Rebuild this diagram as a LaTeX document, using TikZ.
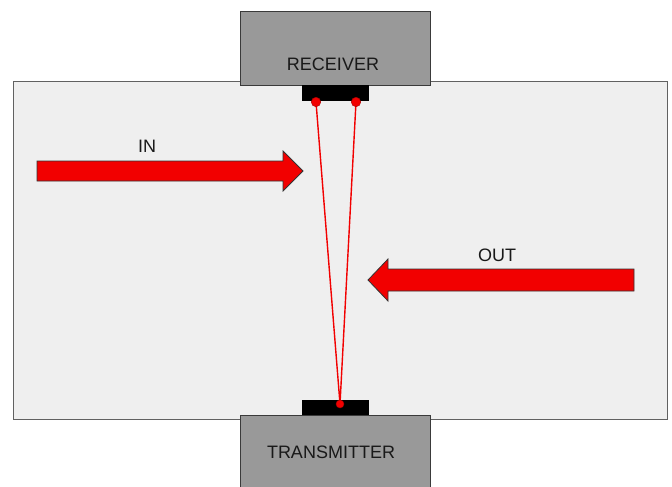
\documentclass[tikz,border=0pt]{standalone}
\usepackage{fontspec}
\setmainfont{Liberation Sans}
\usetikzlibrary{positioning}
\definecolor{Panel}{HTML}{EFEFEF}
\definecolor{Housing}{HTML}{999999}
\definecolor{Beam}{HTML}{F20000}
\definecolor{Edge}{HTML}{3A3A3A}
\tikzset{
    panel/.style={rectangle, draw=Edge!80, fill=Panel, line width=1pt, anchor=north west, inner sep=0pt},
    housing/.style={rectangle, draw=Edge, fill=Housing, line width=1pt, anchor=north west, inner sep=0pt},
    sensor/.style={rectangle, fill=black, anchor=north west, inner sep=0pt},
    caption/.style={font=\fontsize{18}{20}\selectfont, text=black!90, inner sep=0pt},
    flow/.style={draw=black!80, fill=Beam, line width=0.8pt, line join=miter},
    beam/.style={draw=Beam, line width=1.4pt},
    spot/.style={circle, fill=Beam, draw=Beam!70!black, line width=0.4pt, minimum size=9.5pt, inner sep=0pt},
}
\begin{document}
\begin{tikzpicture}[x=1pt, y=-1pt]
    \useasboundingbox (0,0) rectangle (672,487);
    % Kanal
    \node[panel, minimum width=654pt, minimum height=338pt] (duct) at (13,81) {};
    % Empfaenger und Sender
    \node[housing, minimum width=190pt, minimum height=74pt] (rx) at (240,11) {};
    \node[housing, minimum width=190pt, minimum height=80pt] (tx) at (240,415) {};
    \node[sensor, minimum width=67pt, minimum height=16pt] (rxhead) at (302,85) {};
    \node[sensor, minimum width=67pt, minimum height=15pt] (txhead) at (302,400) {};
    \node[caption] (rxlabel) at (333,64) {RECEIVER};
    \node[caption] (txlabel) at (331,452) {TRANSMITTER};
    % Strahlen
    \coordinate (rxleft) at (316,102);
    \coordinate (rxright) at (356,102);
    \coordinate (txspot) at (340,404);
    \draw[beam] (rxleft) -- (txspot) -- (rxright);
    \node[spot] (rxleftdot) at (rxleft) {};
    \node[spot] (rxrightdot) at (rxright) {};
    \node[spot, minimum size=8pt] (txdot) at (txspot) {};
    % Stroemung
    \draw[flow] (37,161) -- (283,161) -- (283,151) -- (303,171) -- (283,191) -- (283,181) -- (37,181) -- cycle;
    \draw[flow] (634,269) -- (388,269) -- (388,259) -- (368,280) -- (388,301) -- (388,291) -- (634,291) -- cycle;
    \node[caption] (inlabel) at (147,146) {IN};
    \node[caption] (outlabel) at (497,255) {OUT};
\end{tikzpicture}
\end{document}
